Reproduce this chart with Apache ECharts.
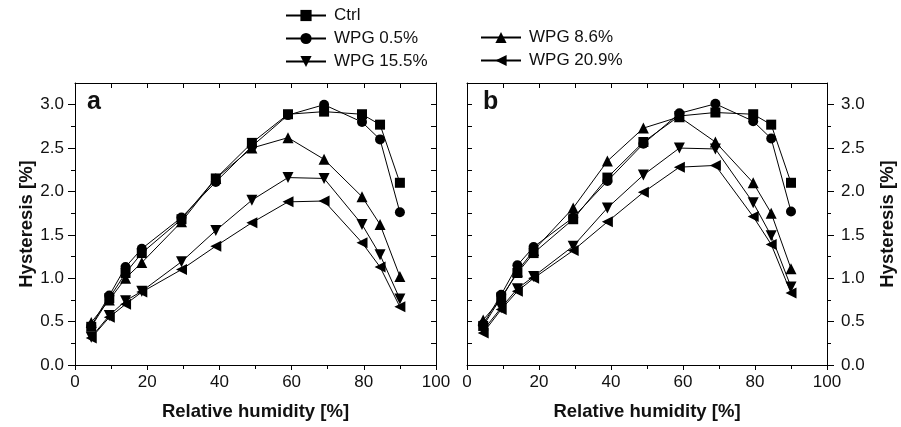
<!DOCTYPE html>
<html><head><meta charset="utf-8">
<script src="https://cdn.jsdelivr.net/npm/echarts@6/dist/echarts.min.js"></script>
<style>html,body{margin:0;padding:0;background:#fff}#c{width:901px;height:427px}</style>
</head><body><div id="c"></div>
<script>
// Relative humidity (x) values
const rh = [4.5, 9.5, 14, 18.5, 29.5, 39, 49, 59, 69, 79.5, 84.5, 90];
const seriesNames = ['Ctrl', 'WPG 0.5%', 'WPG 8.6%', 'WPG 15.5%', 'WPG 20.9%'];
// Panel a
const a_ctrl = [0.44, 0.77, 1.06, 1.29, 1.68, 2.15, 2.56, 2.89, 2.92, 2.89, 2.77, 2.10];
const a_wpg05 = [0.45, 0.80, 1.13, 1.34, 1.70, 2.11, 2.52, 2.88, 3.00, 2.80, 2.60, 1.76];
const a_wpg86 = [0.49, 0.75, 1.00, 1.18, 1.65, 2.15, 2.50, 2.62, 2.37, 1.94, 1.62, 1.02];
const a_wpg155 = [0.32, 0.57, 0.74, 0.85, 1.19, 1.55, 1.90, 2.16, 2.15, 1.62, 1.27, 0.76];
const a_wpg209 = [0.31, 0.55, 0.70, 0.84, 1.10, 1.37, 1.64, 1.88, 1.89, 1.41, 1.13, 0.67];
// Panel b
const b_ctrl = [0.45, 0.78, 1.06, 1.29, 1.68, 2.16, 2.57, 2.87, 2.91, 2.89, 2.77, 2.10];
const b_wpg05 = [0.47, 0.81, 1.15, 1.36, 1.70, 2.12, 2.55, 2.90, 3.01, 2.81, 2.61, 1.77];
const b_wpg86 = [0.52, 0.76, 1.08, 1.32, 1.81, 2.35, 2.73, 2.86, 2.57, 2.10, 1.75, 1.11];
const b_wpg155 = [0.40, 0.66, 0.88, 1.02, 1.37, 1.81, 2.19, 2.50, 2.49, 1.87, 1.49, 0.90];
const b_wpg209 = [0.37, 0.64, 0.85, 1.00, 1.32, 1.65, 1.99, 2.28, 2.30, 1.71, 1.39, 0.83];
// Tick values
const yMajor = [0, 0.5, 1.0, 1.5, 2.0, 2.5, 3.0];
const yMinor = [0.25, 0.75, 1.25, 1.75, 2.25, 2.75];
const yAll = [0.25, 0.5, 0.75, 1.0, 1.25, 1.5, 1.75, 2.0, 2.25, 2.5, 2.75, 3.0];

const FONT = "'Liberation Sans', Arial, Helvetica, sans-serif";
const BLACK = '#000';
const symbols = [
  {symbol: 'rect', size: 10, rot: 0},
  {symbol: 'circle', size: 10, rot: 0},
  {symbol: 'triangle', size: 11, rot: 0},
  {symbol: 'triangle', size: 11, rot: 180},
  {symbol: 'triangle', size: 11, rot: 90}
];
const panelData = [
  [a_ctrl, a_wpg05, a_wpg86, a_wpg155, a_wpg209],
  [b_ctrl, b_wpg05, b_wpg86, b_wpg155, b_wpg209]
];

function xMain(gi) {
  return {
    type: 'value', gridIndex: gi, position: 'bottom', min: 0, max: 100, interval: 20,
    axisLine: {show: true, onZero: false, lineStyle: {color: BLACK, width: 1}},
    axisTick: {show: true, inside: false, length: 5, lineStyle: {color: BLACK}},
    minorTick: {show: true, splitNumber: 2, length: 4, lineStyle: {color: BLACK}},
    axisLabel: {color: '#111', fontSize: 17, fontFamily: FONT, margin: 9},
    splitLine: {show: false},
    name: 'Relative humidity [%]', nameLocation: 'middle', nameGap: 37,
    nameTextStyle: {color: '#111', fontSize: 18.5, fontWeight: 'bold', fontFamily: FONT}
  };
}
function xTop(gi) {
  return {
    type: 'value', gridIndex: gi, position: 'top', min: 0, max: 100, interval: 10,
    axisLine: {show: true, onZero: false, lineStyle: {color: BLACK, width: 1}},
    axisTick: {show: true, inside: true, length: 5, lineStyle: {color: BLACK}},
    axisLabel: {show: false}, splitLine: {show: false}
  };
}
function yMainAxis(gi, pos, margin, gap) {
  return {
    type: 'value', gridIndex: gi, position: pos, min: 0, max: 3.25,
    axisLine: {show: true, onZero: false, lineStyle: {color: BLACK, width: 1}},
    axisTick: {show: true, inside: false, length: 7, customValues: yMajor, lineStyle: {color: BLACK}},
    axisLabel: {show: true, customValues: yMajor, color: '#111', fontSize: 17, fontFamily: FONT, margin: margin,
      formatter: v => Number(v).toFixed(1)},
    splitLine: {show: false},
    name: 'Hysteresis [%]', nameLocation: 'middle', nameRotate: 90, nameGap: gap,
    nameTextStyle: {color: '#111', fontSize: 18.5, fontWeight: 'bold', fontFamily: FONT}
  };
}
function yMinorAxis(gi, pos) {
  return {
    type: 'value', gridIndex: gi, position: pos, min: 0, max: 3.25,
    axisLine: {show: false, onZero: false},
    axisTick: {show: true, inside: false, length: 4, customValues: yMinor, lineStyle: {color: BLACK}},
    axisLabel: {show: false}, splitLine: {show: false}
  };
}
function yMirror(gi, pos) {
  return {
    type: 'value', gridIndex: gi, position: pos, min: 0, max: 3.25,
    axisLine: {show: true, onZero: false, lineStyle: {color: BLACK, width: 1}},
    axisTick: {show: true, inside: true, length: 5, customValues: yAll, lineStyle: {color: BLACK}},
    axisLabel: {show: false}, splitLine: {show: false}
  };
}

const series = [];
panelData.forEach((pd, p) => {
  pd.forEach((vals, i) => {
    series.push({
      type: 'line', name: seriesNames[i],
      xAxisIndex: p === 0 ? 0 : 2,
      yAxisIndex: p === 0 ? 0 : 4,
      data: rh.map((x, k) => [x, vals[k]]),
      symbol: symbols[i].symbol, symbolSize: symbols[i].size, symbolRotate: symbols[i].rot,
      showAllSymbol: true,
      lineStyle: {color: BLACK, width: 1},
      itemStyle: {color: BLACK, borderColor: BLACK, borderWidth: 0},
      emphasis: {disabled: true},
      z: 2 + (4 - i)
    });
  });
});

const legendCommon = {
  orient: 'vertical', itemWidth: 40, itemHeight: 14, itemGap: 6,
  textStyle: {color: '#111', fontSize: 17, fontFamily: FONT, lineHeight: 16, padding: [0, 0, 0, 3]},
  selectedMode: false
};

const option = {
  animation: false,
  backgroundColor: '#fff',
  grid: [
    {left: 75, right: 465, top: 83, bottom: 62, containLabel: false},
    {left: 467, right: 74, top: 83, bottom: 62, containLabel: false}
  ],
  legend: [
    Object.assign({}, legendCommon, {left: 280, top: 2, data: ['Ctrl', 'WPG 0.5%', 'WPG 15.5%']}),
    Object.assign({}, legendCommon, {left: 475, top: 24, data: ['WPG 8.6%', 'WPG 20.9%']})
  ],
  xAxis: [xMain(0), xTop(0), xMain(1), xTop(1)],
  yAxis: [
    yMainAxis(0, 'left', 11, 35), yMinorAxis(0, 'left'), yMirror(0, 'right'),
    yMirror(1, 'left'), yMainAxis(1, 'right', 14, 51), yMinorAxis(1, 'right')
  ],
  graphic: [
    {type: 'text', left: 87, top: 90, style: {text: 'a', font: 'bold 25px ' + FONT, fill: '#111'}},
    {type: 'text', left: 483, top: 90, style: {text: 'b', font: 'bold 25px ' + FONT, fill: '#111'}}
  ],
  series: series
};
const chart = echarts.init(document.getElementById('c'), null, {renderer: 'canvas'});
chart.setOption(option);
</script>
</body></html>
